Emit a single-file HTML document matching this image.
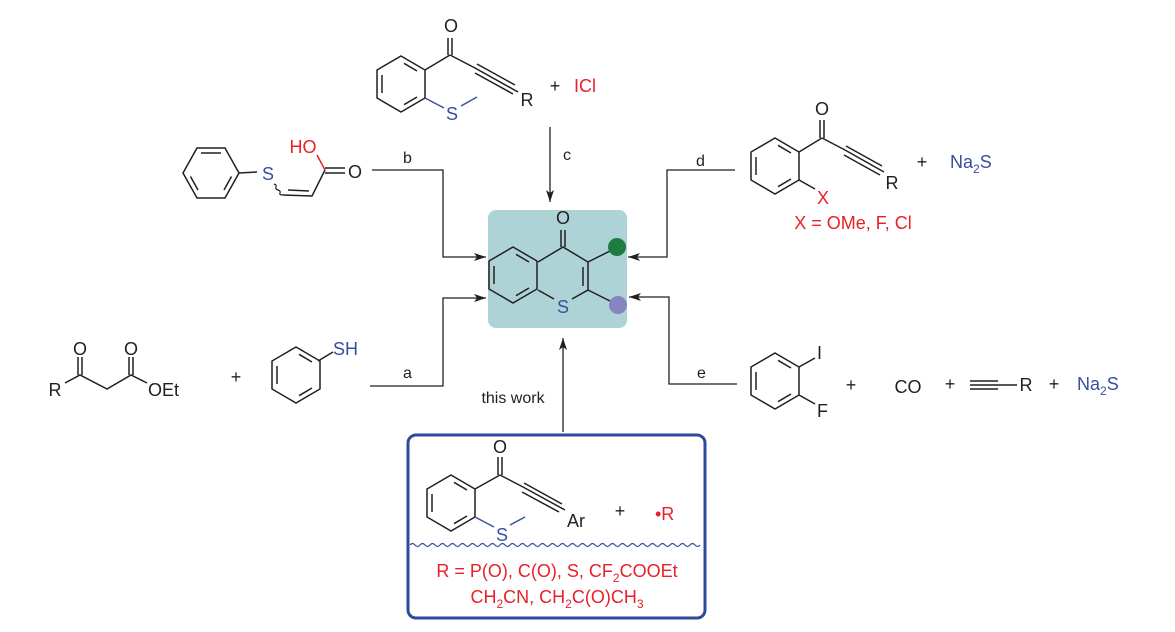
<!DOCTYPE html>
<html><head><meta charset="utf-8"><style>
html,body{margin:0;padding:0;background:#fff}
svg{display:block}
text{font-family:"Liberation Sans",Arial,sans-serif;font-size:18px;fill:#231f20}
.r{fill:#e8202a}.bl{fill:#3a4ea0}
.sm{font-size:16px}
</style></head><body>
<svg width="1175" height="632" viewBox="0 0 1175 632" xmlns="http://www.w3.org/2000/svg">
<defs>
<g id="rp" fill="none" stroke="#231f20" stroke-width="1.5">
<polygon points="0,-28 24,-14 24,14 0,28 -24,14 -24,-14"/>
<line x1="-19" y1="-9" x2="-19" y2="9"/>
<line x1="3" y1="-20.7" x2="16" y2="-13"/>
<line x1="16" y1="13" x2="3" y2="20.7"/>
</g>
<g id="rf" fill="none" stroke="#231f20" stroke-width="1.5">
<polygon points="-14,-25 14,-25 28,0 14,25 -14,25 -28,0"/>
<line x1="-10" y1="-20" x2="10" y2="-20"/>
<line x1="20.5" y1="3.5" x2="13" y2="17"/>
<line x1="-20.5" y1="3.5" x2="-13" y2="17"/>
</g>
<marker id="ar" markerWidth="12" markerHeight="8" refX="12" refY="4" orient="auto" markerUnits="userSpaceOnUse">
<path d="M0,0 L12,4 L0,8 L3,4 Z" fill="#231f20"/>
</marker>
</defs>

<rect x="488" y="210" width="139" height="118" rx="8" fill="#add3d7"/>
<use href="#rp" x="513" y="275"/>
<g fill="none" stroke="#231f20" stroke-width="1.5">
<polyline points="538,262 563,247 588,262 588,290 572,299"/>
<line x1="538" y1="290" x2="554" y2="299"/>
<line x1="583" y1="267" x2="583" y2="286"/>
<line x1="561" y1="247" x2="561" y2="230"/>
<line x1="565" y1="247" x2="565" y2="230"/>
<line x1="588" y1="262" x2="612" y2="250"/>
<line x1="588" y1="290" x2="612" y2="302"/>
</g>
<text x="563" y="224" text-anchor="middle">O</text>
<text x="563" y="313" text-anchor="middle" class="bl">S</text>
<circle cx="617" cy="247" r="9" fill="#1e7d3e"/>
<circle cx="618" cy="305" r="9" fill="#8585c0"/>

<g fill="none" stroke="#231f20" stroke-width="1.3">
<line x1="550" y1="127" x2="550" y2="202" marker-end="url(#ar)"/>
<polyline points="372,170 443,170 443,257 486,257" marker-end="url(#ar)"/>
<polyline points="370,386 443,386 443,298 486,298" marker-end="url(#ar)"/>
<polyline points="735,170 667,170 667,257 628,257" marker-end="url(#ar)"/>
<polyline points="737,384 669,384 669,297 629,297" marker-end="url(#ar)"/>
<line x1="563" y1="432" x2="563" y2="338" marker-end="url(#ar)"/>
</g>
<text x="563" y="160" class="sm">c</text>
<text x="403" y="163" class="sm">b</text>
<text x="403" y="378" class="sm">a</text>
<text x="696" y="166" class="sm">d</text>
<text x="697" y="378" class="sm">e</text>
<text x="513" y="403" text-anchor="middle" class="sm">this work</text>

<use href="#rp" x="401" y="84"/>
<g fill="none" stroke="#231f20" stroke-width="1.5">
<line x1="425" y1="70" x2="450" y2="55"/>
<line x1="448" y1="55" x2="448" y2="38"/>
<line x1="452" y1="55" x2="452" y2="38"/>
<polyline points="450,55 475,68 518,92"/>
<line x1="477" y1="64" x2="515" y2="85"/>
<line x1="475" y1="73" x2="513" y2="94"/>
</g>
<g stroke="#3a4ea0" stroke-width="1.5"><line x1="425" y1="98" x2="444" y2="108"/><line x1="461" y1="106" x2="477" y2="97"/></g>
<text x="451" y="32" text-anchor="middle">O</text>
<text x="527" y="106" text-anchor="middle">R</text>
<text x="452" y="120" text-anchor="middle" class="bl">S</text>
<text x="555" y="92" text-anchor="middle">+</text>
<text x="574" y="92" class="r">ICl</text>

<use href="#rf" x="211" y="173"/>
<line x1="239" y1="173" x2="257" y2="172" stroke="#231f20" stroke-width="1.5"/>
<text x="268" y="180" text-anchor="middle" class="bl">S</text>
<path d="M274,184 q3,1 2,3 q-1,2 2,3 q3,1 2,3 q-1,2 3,2" fill="none" stroke="#231f20" stroke-width="1.2"/>
<g fill="none" stroke="#231f20" stroke-width="1.5">
<polyline points="283,195 312,196 325,170"/>
<line x1="288" y1="190" x2="309" y2="191"/>
<line x1="325" y1="168" x2="345" y2="168"/>
<line x1="325" y1="173" x2="345" y2="173"/>
</g>
<line x1="317" y1="155" x2="325" y2="170" stroke="#e8202a" stroke-width="1.5"/>
<text x="303" y="153" text-anchor="middle" class="r">HO</text>
<text x="355" y="178" text-anchor="middle">O</text>

<g fill="none" stroke="#231f20" stroke-width="1.5">
<polyline points="65,383 80,375 107,389 131,375 147,383"/>
<line x1="78" y1="375" x2="78" y2="357"/><line x1="82" y1="375" x2="82" y2="357"/>
<line x1="129" y1="375" x2="129" y2="357"/><line x1="133" y1="375" x2="133" y2="357"/>
</g>
<text x="55" y="396" text-anchor="middle">R</text>
<text x="80" y="355" text-anchor="middle">O</text>
<text x="131" y="355" text-anchor="middle">O</text>
<text x="148" y="396">OEt</text>
<text x="236" y="383" text-anchor="middle">+</text>
<use href="#rp" x="296" y="375"/>
<line x1="318" y1="361" x2="333" y2="352" stroke="#231f20" stroke-width="1.5"/>
<text x="333" y="355" class="bl">SH</text>

<use href="#rp" x="775" y="166"/>
<g fill="none" stroke="#231f20" stroke-width="1.5">
<line x1="799" y1="152" x2="822" y2="138"/>
<line x1="820" y1="138" x2="820" y2="120"/><line x1="824" y1="138" x2="824" y2="120"/>
<polyline points="822,138 845,150 884,172"/>
<line x1="846" y1="146" x2="882" y2="166"/>
<line x1="844" y1="155" x2="880" y2="175"/>
<line x1="799" y1="180" x2="815" y2="189"/>
</g>
<text x="822" y="115" text-anchor="middle">O</text>
<text x="892" y="189" text-anchor="middle">R</text>
<text x="823" y="204" text-anchor="middle" class="r">X</text>
<text x="853" y="229" text-anchor="middle" class="r">X = OMe, F, Cl</text>
<text x="922" y="168" text-anchor="middle">+</text>
<text x="950" y="168" class="bl">Na<tspan font-size="12" dy="5">2</tspan><tspan dy="-5">S</tspan></text>

<use href="#rp" x="775" y="381"/>
<g fill="none" stroke="#231f20" stroke-width="1.5">
<line x1="799" y1="367" x2="815" y2="358"/>
<line x1="799" y1="395" x2="815" y2="404"/>
<line x1="970" y1="381" x2="998" y2="381"/>
<line x1="970" y1="385" x2="1017" y2="385"/>
<line x1="970" y1="389" x2="998" y2="389"/>
</g>
<text x="817" y="359">I</text>
<text x="817" y="417">F</text>
<text x="851" y="391" text-anchor="middle">+</text>
<text x="908" y="393" text-anchor="middle">CO</text>
<text x="950" y="390" text-anchor="middle">+</text>
<text x="1026" y="391" text-anchor="middle">R</text>
<text x="1054" y="390" text-anchor="middle">+</text>
<text x="1077" y="390" class="bl">Na<tspan font-size="12" dy="5">2</tspan><tspan dy="-5">S</tspan></text>

<rect x="408" y="435" width="297" height="183" rx="8" fill="none" stroke="#2e4a9e" stroke-width="3"/>
<use href="#rp" x="451" y="503"/>
<g fill="none" stroke="#231f20" stroke-width="1.5">
<line x1="475" y1="489" x2="500" y2="475"/>
<line x1="498" y1="475" x2="498" y2="457"/><line x1="502" y1="475" x2="502" y2="457"/>
<polyline points="500,475 523,487 565,510"/>
<line x1="524" y1="483" x2="562" y2="504"/>
<line x1="522" y1="492" x2="559" y2="512"/>
</g>
<g stroke="#3a4ea0" stroke-width="1.5"><line x1="475" y1="517" x2="494" y2="527"/><line x1="510" y1="525" x2="525" y2="517"/></g>
<text x="500" y="453" text-anchor="middle">O</text>
<text x="567" y="527">Ar</text>
<text x="502" y="541" text-anchor="middle" class="bl">S</text>
<text x="620" y="517" text-anchor="middle">+</text>
<text x="655" y="520" class="r">•R</text>
<path d="M410,545 q2.5,-3 5,0 t5,0 t5,0 t5,0 t5,0 t5,0 t5,0 t5,0 t5,0 t5,0 t5,0 t5,0 t5,0 t5,0 t5,0 t5,0 t5,0 t5,0 t5,0 t5,0 t5,0 t5,0 t5,0 t5,0 t5,0 t5,0 t5,0 t5,0 t5,0 t5,0 t5,0 t5,0 t5,0 t5,0 t5,0 t5,0 t5,0 t5,0 t5,0 t5,0 t5,0 t5,0 t5,0 t5,0 t5,0 t5,0 t5,0 t5,0 t5,0 t5,0 t5,0 t5,0 t5,0 t5,0 t5,0 t5,0 t5,0 t5,0" fill="none" stroke="#3a4ea0" stroke-width="1.2"/>
<text x="557" y="577" text-anchor="middle" class="r">R = P(O), C(O), S, CF<tspan font-size="12" dy="5">2</tspan><tspan dy="-5">COOEt</tspan></text>
<text x="557" y="603" text-anchor="middle" class="r">CH<tspan font-size="12" dy="5">2</tspan><tspan dy="-5">CN, CH</tspan><tspan font-size="12" dy="5">2</tspan><tspan dy="-5">C(O)CH</tspan><tspan font-size="12" dy="5">3</tspan></text>
</svg>
</body></html>
